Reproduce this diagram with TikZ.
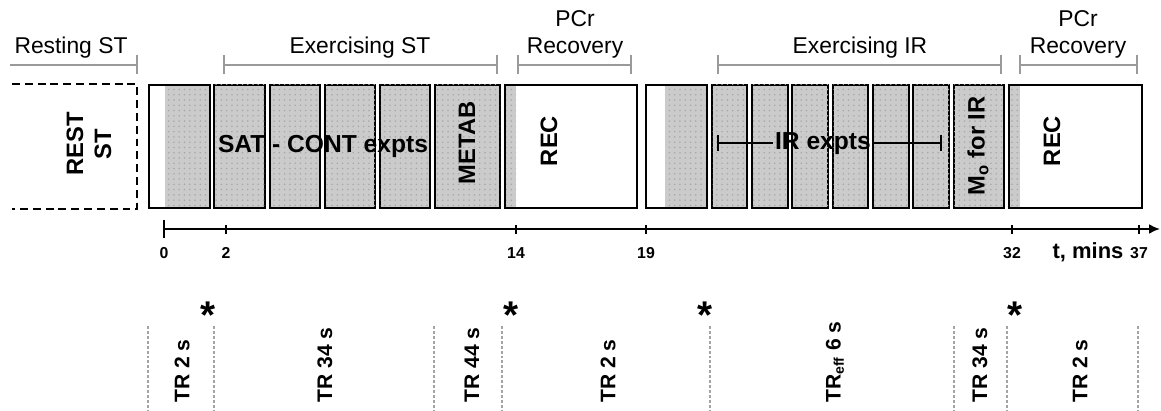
\documentclass[tikz,border=0pt]{standalone}
\usepackage{fontspec}
\setmainfont{Liberation Sans}
\usetikzlibrary{arrows.meta,patterns}
\definecolor{bracketgray}{HTML}{9A9A9A}
\definecolor{sepgray}{HTML}{A3A3A3}
\definecolor{cellfill}{HTML}{CBCBCB}
\definecolor{celldot}{HTML}{A8A8A8}

\begin{document}
\begin{tikzpicture}[x=0.02cm,y=-0.02cm,
cell/.style={draw=black,line width=1.2pt},
grain/.style={fill=cellfill,postaction={pattern=dots,pattern color=celldot}},
bracket/.style={draw=bracketgray,line width=1.4pt},
sep/.style={draw=sepgray,line width=1.1pt,dash pattern=on 1.7pt off 1.1pt},
phase/.style={font=\fontsize{13}{15.3}\selectfont,align=center,inner sep=0pt},
boxlabel/.style={font=\bfseries\fontsize{13.5}{16}\selectfont,align=center,inner sep=0pt},
ticklabel/.style={font=\bfseries\fontsize{9}{10}\selectfont,inner sep=0pt},
trlabel/.style={font=\bfseries\fontsize{12}{14}\selectfont,rotate=90,anchor=west,inner sep=0pt},
star/.style={font=\bfseries\fontsize{22}{22}\selectfont,anchor=base,inner sep=0pt}]
\useasboundingbox (0,0) rectangle (1161,411);

\node[phase,anchor=base] (resting) at (71,54) {Resting ST};
\node[phase,anchor=base] (exst) at (360,54) {Exercising ST};
\node[phase,anchor=north] (pcra) at (575,10) {PCr\\Recovery};
\node[phase,anchor=base] (exir) at (860,54) {Exercising IR};
\node[phase,anchor=north] (pcrb) at (1078,10) {PCr\\Recovery};
\coordinate (rest-l) at (10,65);
\coordinate (rest-r) at (138,65);
\draw[bracket,-{Bar[width=3.8mm]}] (rest-l) -- (rest-r);
\foreach \a/\b/\n in {223/498/exst,517/632/pcra,717/1002/exir,1019/1138/pcrb}{
 \coordinate (\n-l) at (\a,65);
 \coordinate (\n-r) at (\b,65);
 \draw[bracket,{Bar[width=3.8mm]}-{Bar[width=3.8mm]}] (\n-l) -- (\n-r);}

\draw[line width=1.2pt,dash pattern=on 4.5pt off 2.8pt] (12,84) -- (137,84) -- (137,209) -- (12,209);
\foreach \l/\r in {165/210,505/516,665/707,1009/1020}
 \fill[grain] (\l,85) rectangle (\r,208);
\foreach \l/\r in {149/210,505/637,646/707,1009/1142}
 \draw[cell] (\l,85) rectangle (\r,208);
\foreach \l/\r in {214/265,270/320,325/375,380/430,435/500,712/747,752/788,792/828,833/868,873/909,913/949,954/1004}
 \draw[cell,grain] (\l,85) rectangle (\r,208);

\node[boxlabel,rotate=90] (rest) at (89,144) {REST\\ST};
\node[boxlabel,font=\bfseries\fontsize{14}{16}\selectfont,anchor=base] (satcont) at (323,153) {SAT - CONT expts};
\node[boxlabel,rotate=90] (metab) at (467,143) {METAB};
\node[boxlabel,rotate=90] (reca) at (549,141) {REC};
\node[boxlabel,rotate=90] (mo) at (978,146) {M\textsubscript{o} for IR};
\node[boxlabel,rotate=90] (recb) at (1052,141) {REC};
\node[boxlabel,font=\bfseries\fontsize{14}{16}\selectfont,anchor=base,inner sep=1pt] (irx) at (823,150) {IR expts};
\coordinate (irx-l) at (717,143);
\coordinate (irx-r) at (942,143);
\draw[line width=1.2pt,{Bar[width=3.2mm]}-] (irx-l) -- (irx-l -| irx.west);
\draw[line width=1.2pt,-{Bar[width=3.2mm]}] (irx.east |- irx-r) -- (irx-r);

\coordinate (t0) at (164,229);
\coordinate (tend) at (1160,229);
\draw[line width=1.2pt,-{Latex[length=2.2mm,width=2mm]}] (t0) -- (tend);
\draw[line width=1.2pt] (164,220) -- (164,238);
\foreach \x/\t in {164/0,226/2,516/14,646/19,1012/32,1139/37}{
 \draw[line width=1.2pt] (\x,225) -- (\x,234);
 \node[ticklabel] (tick\t) at (\x,253) {\t};}
\node[boxlabel,font=\bfseries\fontsize{12.5}{14}\selectfont] (tmins) at (1088,252) {t, mins};

\foreach \x [count=\i] in {208,511,705,1015}
 \node[star] (star\i) at (\x,329) {*};
\foreach \x in {148,214,434,502,710,954,1007,1138}
 \draw[sep] (\x,326) -- (\x,411);

\node[trlabel] (tra) at (182,403) {TR 2 s};
\node[trlabel] (trb) at (325,403) {TR 34 s};
\node[trlabel] (trc) at (472,403) {TR 44 s};
\node[trlabel] (trd) at (608,403) {TR 2 s};
\node[trlabel] (tre) at (835,403) {TR\textsubscript{eff} 6 s};
\node[trlabel] (trf) at (980,403) {TR 34 s};
\node[trlabel] (trg) at (1080,403) {TR 2 s};
\end{tikzpicture}
\end{document}
